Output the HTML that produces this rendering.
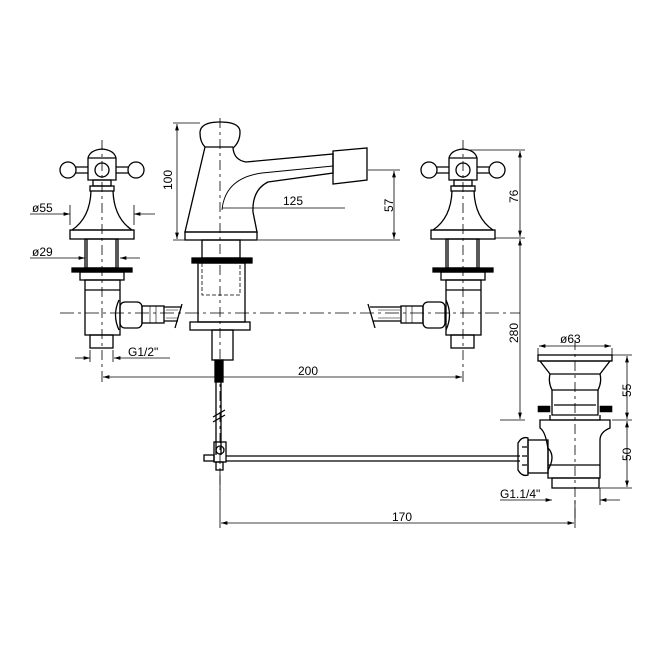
<!DOCTYPE html>
<html><head><style>html,body{margin:0;padding:0;background:#fff}svg{display:block}text{font-family:"Liberation Sans",sans-serif;font-size:12px;fill:#000}</style></head>
<body>
<svg width="672" height="672" viewBox="0 0 672 672" xmlns="http://www.w3.org/2000/svg" fill="none" stroke="#000" stroke-width="1.3">
<defs>
<marker id="a" viewBox="0 0 10 6" refX="10" refY="3" markerWidth="8" markerHeight="5" orient="auto-start-reverse"><path d="M0,0L10,3L0,6z" fill="#000" stroke="none"/></marker>
<g id="valve">
<circle cx="-34" cy="0" r="8"/><circle cx="34" cy="0" r="8"/>
<path d="M-26,-3H-14M-26,3H-14M26,-3H14M26,3H14"/>
<path d="M-14,-12 Q-12,-20 0,-21 Q12,-20 14,-12 V10 H-14Z"/>
<path d="M-14,-12H14"/>
<circle cx="0" cy="0" r="7"/>
<rect x="-9" y="10" width="18" height="6"/>
<rect x="-12" y="16" width="24" height="5"/>
<path d="M-11,21 Q-12,48 -30,60 H30 Q12,48 11,21"/>
<rect x="-32" y="60" width="64" height="9"/>
<rect x="-17" y="69" width="33" height="29"/>
<path d="M-15,69V98M14,69V98"/>
<rect x="-30" y="98" width="60" height="4" fill="#000"/>
<rect x="-22" y="102" width="44" height="8"/>
<rect x="-17" y="110" width="35" height="55"/>
<path d="M-17,120H18"/>
<rect x="-12" y="165" width="23" height="13"/>
</g>
</defs>

<path d="M60,313H520" stroke-width="0.8" stroke-dasharray="14,4,3,4"/>
<path d="M102,140V372M463,140V372M220,118V490M575,340V520" stroke-width="0.8" stroke-dasharray="10,4,3,4"/>

<use href="#valve" x="102" y="170"/>
<path d="M119,300 Q112,315 119,330"/>
<rect x="120" y="302" width="22" height="26" rx="5"/>
<rect x="142" y="306" width="22" height="17"/>
<path d="M164,307 H182 M164,321 H178 M182,304 L175,328" />
<path d="M150,306V323M156,306V323M166,310H178M166,318H178" stroke-width="0.6"/>

<use href="#valve" x="463" y="170"/>
<path d="M446,300 Q453,315 446,330"/>
<rect x="423" y="302" width="22" height="26" rx="5"/>
<rect x="401" y="306" width="22" height="17"/>
<path d="M401,307 H370 M401,321 H373 M368,304 L375,328"/>
<path d="M406,306V323M412,306V323M378,310H400M378,318H400" stroke-width="0.6"/>

<!-- spout -->
<path d="M205,147 Q200,142 200,133 Q200,122 220,122 Q240,122 240,132 Q240,142 233,148 Q234,160 246,162 L333,154 L333,173 L268,182 Q252,190 253,212 L257,232 H185 L205,147Z"/>
<path d="M205,147H233"/>
<path d="M222,210 Q225,178 262,173 L333,166" stroke-width="0.9"/>
<path d="M333,151 L367,148 L367,180 L333,184Z"/>
<rect x="185" y="232" width="72" height="8"/>
<rect x="202" y="240" width="38" height="18"/>
<rect x="192" y="258" width="60" height="5" fill="#000"/>
<rect x="198" y="263" width="47" height="59"/>
<path d="M202,263V295H240V263" stroke-dasharray="4,2" stroke-width="0.8"/>
<rect x="190" y="322" width="60" height="8"/>
<rect x="212" y="330" width="21" height="30"/>
<rect x="215" y="360" width="8" height="22" fill="#000"/>
<path d="M216,382V455M221,382V455M213,417L225,410M213,422L225,415"/>
<rect x="214" y="442" width="12" height="20"/>
<circle cx="220" cy="450" r="4"/>
<rect x="204" y="455" width="10" height="6"/>
<rect x="216" y="462" width="7" height="8"/>
<path d="M226,456H520M226,461H520"/>

<rect x="538" y="355" width="74" height="6"/>
<path d="M540,361 H610 L600,374 H550Z"/>
<path d="M550,374 Q548,382 552,390 V415 H598 V390 Q602,382 600,374"/>
<path d="M552,390H598M554,405H596"/>
<path d="M538,406H550V412H538ZM600,406H612V412H600Z" fill="#000" stroke-width="0.6"/>
<path d="M550,415V420H600V415"/>
<path d="M540,420 H610 V428 Q600,432 600,440 V478 H548 V450 Q546,432 540,428Z"/>
<rect x="552" y="478" width="47" height="10"/>
<path d="M548,465H600"/>
<rect x="528" y="440" width="20" height="33"/>
<path d="M518,443 Q522,436 528,438 V475 Q522,477 518,470Z"/>
<path d="M522,447h5M522,456h5M522,465h5"/>
<path d="M548,448 Q556,456 548,470"/>

<g stroke-width="0.8">
<path d="M173,123H200M173,240H185"/>
<path d="M177,124V239" marker-start="url(#a)" marker-end="url(#a)"/>
<path d="M222,208H345"/>
<path d="M368,170H400M258,240H400"/>
<path d="M394,171V239" marker-start="url(#a)" marker-end="url(#a)"/>
<path d="M470,150H525M495,238H525M500,420H525"/>
<path d="M520,151V237" marker-start="url(#a)" marker-end="url(#a)"/>
<path d="M520,239V419" marker-start="url(#a)" marker-end="url(#a)"/>
<path d="M612,355H632M612,420H632M600,488H632"/>
<path d="M627,356V419" marker-start="url(#a)" marker-end="url(#a)"/>
<path d="M627,421V487" marker-start="url(#a)" marker-end="url(#a)"/>
<path d="M539,346H611" marker-start="url(#a)" marker-end="url(#a)"/>
<path d="M538,348V355M612,348V355"/>
<path d="M102,372V382M463,372V382"/>
<path d="M103,377H462" marker-start="url(#a)" marker-end="url(#a)"/>
<path d="M220,470V528M575,500V528"/>
<path d="M221,523H574" marker-start="url(#a)" marker-end="url(#a)"/>
<path d="M30,214H70" marker-end="url(#a)"/><path d="M155,214H134" marker-end="url(#a)"/>
<path d="M70,205V225M134,205V225"/>
<path d="M30,258H85" marker-end="url(#a)"/><path d="M140,258H120" marker-end="url(#a)"/>
<path d="M75,358H90" marker-end="url(#a)"/><path d="M170,358H114" marker-end="url(#a)"/>
<path d="M90,350V362M113,350V362"/>
<path d="M500,500H552" marker-end="url(#a)"/><path d="M620,500H600" marker-end="url(#a)"/>
<path d="M600,488V505"/>
</g>
<g stroke="none">
<text x="32" y="212">ø55</text>
<text x="32" y="256">ø29</text>
<text x="128" y="356">G1/2"</text>
<text x="298" y="375">200</text>
<text x="283" y="205">125</text>
<text x="392" y="521">170</text>
<text x="560" y="343">ø63</text>
<text x="500" y="498">G1.1/4"</text>
<text transform="translate(172,190) rotate(-90)">100</text>
<text transform="translate(393,212) rotate(-90)">57</text>
<text transform="translate(518,203) rotate(-90)">76</text>
<text transform="translate(518,343) rotate(-90)">280</text>
<text transform="translate(631,397) rotate(-90)">55</text>
<text transform="translate(631,461) rotate(-90)">50</text>
</g>
</svg>
</body></html>
